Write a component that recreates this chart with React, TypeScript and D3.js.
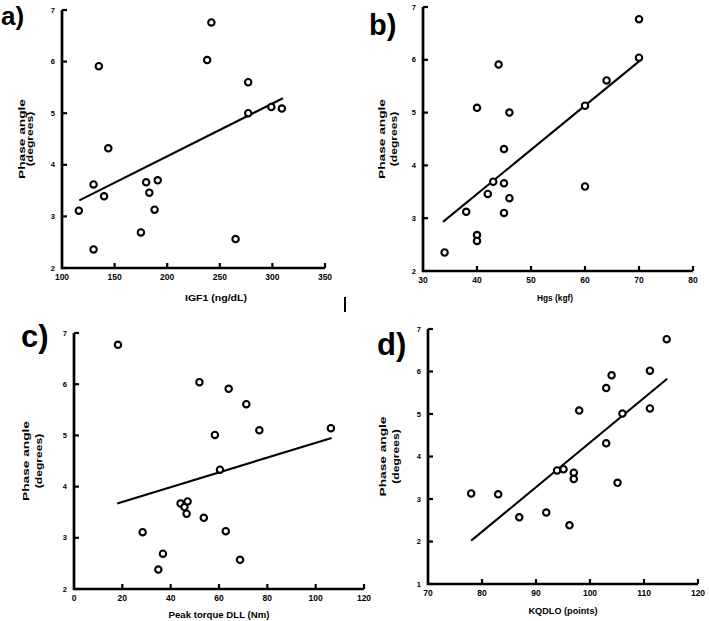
import React from "react";
import * as d3 from "d3";

// --- data ---
const igf1 = [116, 130, 130, 135, 140, 144, 175, 180, 183, 188, 191, 238, 242, 265, 277, 277, 299, 309];
const igf1Phase = [3.11, 2.36, 3.62, 5.91, 3.39, 4.32, 2.69, 3.66, 3.46, 3.13, 3.7, 6.03, 6.76, 2.56, 5.6, 5.0, 5.12, 5.09];
const igf1Fit = [[116.5, 3.31], [310, 5.29]];

const hgs = [34, 38, 40, 40, 40, 42, 43, 44, 45, 45, 45, 46, 46, 60, 60, 64, 70, 70];
const hgsPhase = [2.35, 3.12, 2.68, 2.57, 5.09, 3.46, 3.69, 5.91, 4.31, 3.66, 3.1, 5.0, 3.38, 3.6, 5.13, 5.61, 6.04, 6.77];
const hgsFit = [[33.7, 2.93], [70, 5.97]];

const torque = [18.2, 28.4, 34.9, 36.8, 44.1, 45.7, 47, 46.6, 51.9, 53.7, 58.3, 60.4, 62.8, 64, 68.7, 71.3, 76.7, 106.3];
const torquePhase = [6.77, 3.11, 2.38, 2.69, 3.67, 3.6, 3.71, 3.47, 6.04, 3.39, 5.01, 4.33, 3.13, 5.91, 2.57, 5.61, 5.1, 5.14];
const torqueFit = [[17.9, 3.67], [106.6, 4.95]];

const kqdlo = [78, 83, 86.9, 91.9, 93.9, 95.1, 96.2, 97, 97, 98, 103, 103, 104, 105.1, 106, 111.1, 111.1, 114.2];
const kqdloPhase = [3.13, 3.11, 2.57, 2.68, 3.67, 3.7, 2.38, 3.62, 3.47, 5.08, 5.61, 4.31, 5.91, 3.38, 5.01, 6.02, 5.13, 6.76];
const kqdloFit = [[78, 2.02], [114.3, 5.83]];

const panelTags = ["a)", "b)", "c)", "d)"];
const xTitles = ["IGF1 (ng/dL)", "Hgs (kgf)", "Peak torque DLL (Nm)", "KQDLO (points)"];
const yTitle = ["Phase angle", "(degrees)"];

const FONT = "'Liberation Sans', Arial, sans-serif";

type Panel = {
  xs: number[];
  ys: number[];
  fit: number[][];
  xDomain: [number, number];
  xStep: number;
  yDomain: [number, number];
  x0: number; x1: number; yTop: number; yBot: number;
  tag: string; tagX: number; tagY: number; tagSize: number;
  xTitle: string; xTitleX: number; xTitleY: number; xTitleLen: number;
  yTitleX: [number, number]; yTitleLen: number;
};

const panels: Panel[] = [
  {
    xs: igf1, ys: igf1Phase, fit: igf1Fit, xDomain: [100, 350], xStep: 50, yDomain: [2, 7],
    x0: 62, x1: 325, yTop: 10, yBot: 268,
    tag: panelTags[0], tagX: 1, tagY: 25, tagSize: 26,
    xTitle: xTitles[0], xTitleX: 216, xTitleY: 301, xTitleLen: 62,
    yTitleX: [22, 30], yTitleLen: 80,
  },
  {
    xs: hgs, ys: hgsPhase, fit: hgsFit, xDomain: [30, 80], xStep: 10, yDomain: [2, 7],
    x0: 423, x1: 693, yTop: 7, yBot: 271,
    tag: panelTags[1], tagX: 369, tagY: 35, tagSize: 29,
    xTitle: xTitles[1], xTitleX: 555, xTitleY: 301, xTitleLen: 36,
    yTitleX: [382, 394], yTitleLen: 80,
  },
  {
    xs: torque, ys: torquePhase, fit: torqueFit, xDomain: [0, 120], xStep: 20, yDomain: [2, 7],
    x0: 74, x1: 364, yTop: 333, yBot: 589,
    tag: panelTags[2], tagX: 21, tagY: 347, tagSize: 31,
    xTitle: xTitles[2], xTitleX: 219, xTitleY: 618, xTitleLen: 101,
    yTitleX: [26, 39], yTitleLen: 80,
  },
  {
    xs: kqdlo, ys: kqdloPhase, fit: kqdloFit, xDomain: [70, 120], xStep: 10, yDomain: [1, 7],
    x0: 428, x1: 698, yTop: 329, yBot: 584,
    tag: panelTags[3], tagX: 377, tagY: 355, tagSize: 31,
    xTitle: xTitles[3], xTitleX: 563, xTitleY: 614, xTitleLen: 69,
    yTitleX: [383, 396], yTitleLen: 80,
  },
];

const ScatterPanel = ({ p }: { p: Panel }) => {
  const x = d3.scaleLinear().domain(p.xDomain).range([p.x0, p.x1]);
  const y = d3.scaleLinear().domain(p.yDomain).range([p.yBot, p.yTop]);
  const xTicks = d3.range(p.xDomain[0], p.xDomain[1] + 0.001, p.xStep);
  const yTicks = d3.range(p.yDomain[0], p.yDomain[1] + 0.001, 1);
  const line = d3.line<number[]>().x((d) => x(d[0])).y((d) => y(d[1]));
  const yMid = (p.yTop + p.yBot) / 2;

  return (
    <g>
      {/* axes */}
      <path
        d={`M${p.x0},${p.yTop}V${p.yBot}H${p.x1}`}
        fill="none"
        stroke="#000"
        strokeWidth={2.7}
      />
      {yTicks.map((t) => (
        <g key={"y" + t}>
          <line x1={p.x0} x2={p.x0 + 5} y1={y(t)} y2={y(t)} stroke="#000" strokeWidth={2.2} />
          <text
            x={p.x0 - 7}
            y={y(t) + 2.5}
            textAnchor="end"
            fontFamily={FONT}
            fontWeight="bold"
            fontSize={7.5}
          >
            {t}
          </text>
        </g>
      ))}
      {xTicks.map((t) => (
        <g key={"x" + t}>
          {t !== p.xDomain[0] && (
            <line x1={x(t)} x2={x(t)} y1={p.yBot} y2={p.yBot - 5} stroke="#000" strokeWidth={2.2} />
          )}
          <text
            x={x(t)}
            y={p.yBot + 12}
            textAnchor="middle"
            fontFamily={FONT}
            fontWeight="bold"
            fontSize={8.5}
          >
            {t}
          </text>
        </g>
      ))}

      {/* fit line */}
      <path d={line(p.fit) || ""} fill="none" stroke="#000" strokeWidth={2.1} />

      {/* points */}
      {p.xs.map((v, i) => (
        <circle
          key={i}
          cx={x(v)}
          cy={y(p.ys[i])}
          r={3.2}
          fill="#fff"
          stroke="#000"
          strokeWidth={2.1}
        />
      ))}

      {/* titles */}
      <text
        x={p.xTitleX}
        y={p.xTitleY}
        textAnchor="middle"
        fontFamily={FONT}
        fontWeight="bold"
        fontSize={9.5}
        textLength={p.xTitleLen}
        lengthAdjust="spacingAndGlyphs"
      >
        {p.xTitle}
      </text>
      {yTitle.map((s, i) => (
        <text
          key={s}
          transform={`translate(${p.yTitleX[i] + 3},${yMid}) rotate(-90)`}
          textAnchor="middle"
          fontFamily={FONT}
          fontWeight="bold"
          fontSize={9.5}
          textLength={i === 0 ? p.yTitleLen : p.yTitleLen * 0.68}
          lengthAdjust="spacingAndGlyphs"
        >
          {s}
        </text>
      ))}
      <text
        x={p.tagX}
        y={p.tagY}
        fontFamily={FONT}
        fontWeight="bold"
        fontSize={p.tagSize}
      >
        {p.tag}
      </text>
    </g>
  );
};

export default function App() {
  return (
    <svg
      width={709}
      height={621}
      viewBox="0 0 709 621"
      style={{ position: "absolute", left: 0, top: 0, background: "#fff" }}
    >
      <rect width={709} height={621} fill="#fff" />
      {panels.map((p) => (
        <ScatterPanel key={p.tag} p={p} />
      ))}
      {/* stray mark between the panels */}
      <line x1={345} x2={345} y1={297} y2={312} stroke="#000" strokeWidth={2} />
    </svg>
  );
}
